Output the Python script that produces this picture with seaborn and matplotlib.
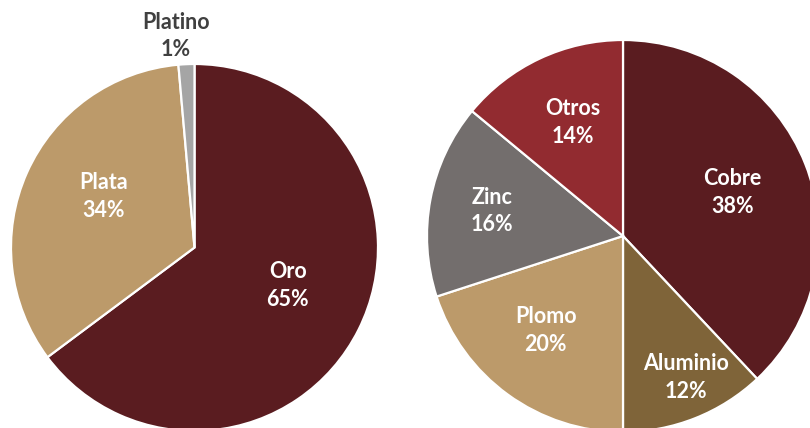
import matplotlib
matplotlib.use("Agg")
import numpy as np
import matplotlib.pyplot as plt
import seaborn as sns

# left pie: metales preciosos
precious_labels = ["Oro", "Plata", "Platino"]
precious_values = [64.8, 33.8, 1.4]
precious_colors = ["#5a1c20", "#bc9a6a", "#a5a5a5"]

# right pie: metales base
base_labels = ["Cobre", "Aluminio", "Plomo", "Zinc", "Otros"]
base_values = [38, 12, 20, 16, 14]
base_colors = ["#5a1c20", "#7f6439", "#bc9a6a", "#736e6d", "#922b30"]

sns.set_theme(style="white")
plt.rcParams["font.family"] = ["Lato", "DejaVu Sans"]

W, H = 810, 428
fig = plt.figure(figsize=(W / 100, H / 100), dpi=100)


def make_axes(cx, cy, r):
    # cx, cy, r in pixels (cy measured from top)
    return fig.add_axes([(cx - r) / W, (H - cy - r) / H, 2 * r / W, 2 * r / H])


def draw_pie(ax, values, labels, colors, label_pos, label_colors):
    wedges, _ = ax.pie(
        values,
        colors=sns.color_palette(colors),
        startangle=90,
        counterclock=False,
        radius=1,
        wedgeprops=dict(edgecolor="white", linewidth=1.6),
    )
    for w, lab, val, lp, lc in zip(wedges, labels, values, label_pos, label_colors):
        mid = np.deg2rad((w.theta1 + w.theta2) / 2)
        x = lp[0] * np.cos(mid) + lp[1]
        y = lp[0] * np.sin(mid) + lp[2]
        ax.text(x, y, f"{lab}\n{val:.0f}%", ha="center", va="center",
                fontsize=15.5, fontweight="bold", color=lc,
                linespacing=1.4, clip_on=False)
    ax.set_xlim(-1, 1)
    ax.set_ylim(-1, 1)
    ax.set_aspect("equal")
    ax.axis("off")


ax1 = make_axes(194.5, 247.5, 183.5)
draw_pie(ax1, precious_values, precious_labels, precious_colors,
         [(0.55, 0.016, 0.04), (0.57, 0.027, 0.044), (1.17, -0.05, -0.016)],
         ["white", "white", "#404040"])

ax2 = make_axes(623, 236, 196)
draw_pie(ax2, base_values, base_labels, base_colors,
         [(0.6, 0, 0), (0.78, 0.036, 0.005), (0.62, -0.03, 0.02),
          (0.68, 0, 0), (0.64, 0.015, 0)],
         ["white"] * 5)

fig.savefig("out.png", dpi=100)
